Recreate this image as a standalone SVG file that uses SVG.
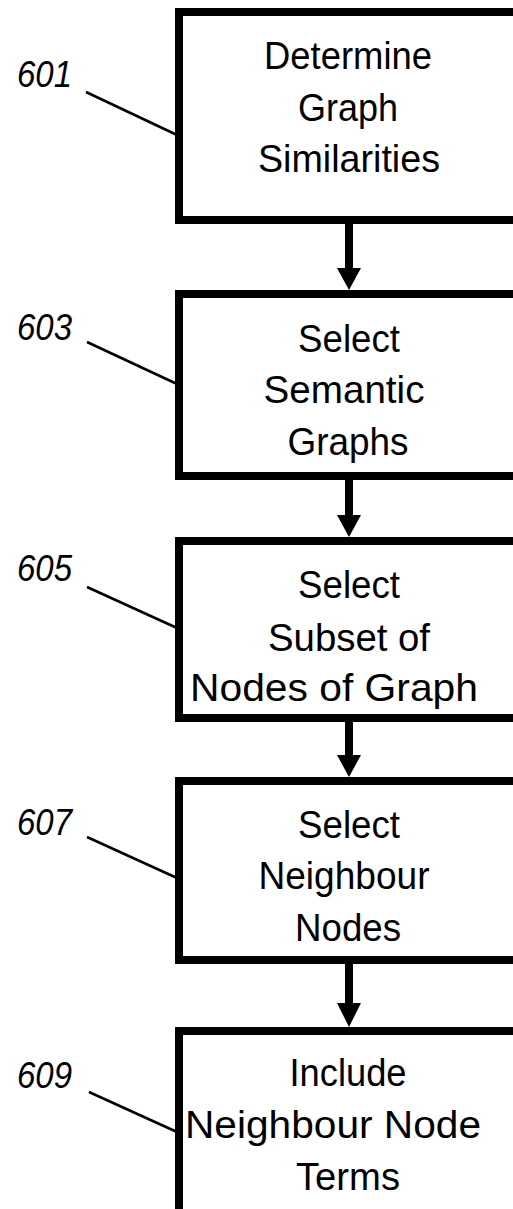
<svg xmlns="http://www.w3.org/2000/svg" width="513" height="1209" viewBox="0 0 513 1209">
  <style>
    .box { fill: #fff; stroke: #000; stroke-width: 8; }
    .txt { font-family: "Liberation Sans", Arial, sans-serif; font-size: 39px; text-anchor: middle; fill: #000; }
    .ref { font-family: "Liberation Sans", Arial, sans-serif; font-size: 37px; font-style: italic; fill: #000; }
    .lead { stroke: #000; stroke-width: 2.5; fill: none; }
    .shaft { stroke: #000; stroke-width: 8; }
    .head { fill: #000; }
  </style>
  <rect width="513" height="1209" fill="#fff"/>

  <!-- flow arrows between the steps -->
  <g id="connectors">
    <line class="shaft" x1="349" y1="224" x2="349" y2="270"/>
    <polygon class="head" points="337,268 361,268 349,290"/>
    <line class="shaft" x1="349" y1="480" x2="349" y2="517"/>
    <polygon class="head" points="337,515 361,515 349,537"/>
    <line class="shaft" x1="349" y1="722" x2="349" y2="757"/>
    <polygon class="head" points="337,755 361,755 349,777"/>
    <line class="shaft" x1="349" y1="964" x2="349" y2="1005"/>
    <polygon class="head" points="337,1003 361,1003 349,1027"/>
  </g>

  <g id="n601">
    <rect class="box" x="179" y="12" width="350" height="208"/>
    <text class="txt" x="348" y="69" textLength="168" lengthAdjust="spacingAndGlyphs">Determine</text>
    <text class="txt" x="348" y="121" textLength="100" lengthAdjust="spacingAndGlyphs">Graph</text>
    <text class="txt" x="349" y="172" textLength="182" lengthAdjust="spacingAndGlyphs">Similarities</text>
    <text class="ref" x="17" y="87" textLength="55" lengthAdjust="spacingAndGlyphs">601</text>
    <line class="lead" x1="86" y1="92" x2="177" y2="135"/>
  </g>

  <g id="n603">
    <rect class="box" x="179" y="294" width="350" height="182"/>
    <text class="txt" x="349" y="352" textLength="102" lengthAdjust="spacingAndGlyphs">Select</text>
    <text class="txt" x="344" y="403" textLength="161" lengthAdjust="spacingAndGlyphs">Semantic</text>
    <text class="txt" x="348" y="455" textLength="121" lengthAdjust="spacingAndGlyphs">Graphs</text>
    <text class="ref" x="17" y="340" textLength="55" lengthAdjust="spacingAndGlyphs">603</text>
    <line class="lead" x1="87" y1="342" x2="177" y2="384"/>
  </g>

  <g id="n605">
    <rect class="box" x="179" y="541" width="350" height="177"/>
    <text class="txt" x="349" y="598" textLength="102" lengthAdjust="spacingAndGlyphs">Select</text>
    <text class="txt" x="349" y="651" textLength="162" lengthAdjust="spacingAndGlyphs">Subset of</text>
    <text class="txt" x="334" y="701" textLength="288" lengthAdjust="spacingAndGlyphs">Nodes of Graph</text>
    <text class="ref" x="17" y="581" textLength="55" lengthAdjust="spacingAndGlyphs">605</text>
    <line class="lead" x1="87" y1="587" x2="177" y2="628"/>
  </g>

  <g id="n607">
    <rect class="box" x="179" y="781" width="350" height="179"/>
    <text class="txt" x="349" y="838" textLength="102" lengthAdjust="spacingAndGlyphs">Select</text>
    <text class="txt" x="344" y="889" textLength="171" lengthAdjust="spacingAndGlyphs">Neighbour</text>
    <text class="txt" x="348" y="941" textLength="106" lengthAdjust="spacingAndGlyphs">Nodes</text>
    <text class="ref" x="17" y="835" textLength="55" lengthAdjust="spacingAndGlyphs">607</text>
    <line class="lead" x1="87" y1="837" x2="177" y2="878"/>
  </g>

  <g id="n609">
    <rect class="box" x="179" y="1031" width="350" height="200"/>
    <text class="txt" x="348" y="1086" textLength="117" lengthAdjust="spacingAndGlyphs">Include</text>
    <text class="txt" x="333" y="1138" textLength="296" lengthAdjust="spacingAndGlyphs">Neighbour Node</text>
    <text class="txt" x="348" y="1190" textLength="104" lengthAdjust="spacingAndGlyphs">Terms</text>
    <text class="ref" x="17" y="1088" textLength="55" lengthAdjust="spacingAndGlyphs">609</text>
    <line class="lead" x1="89" y1="1092" x2="177" y2="1132"/>
  </g>
</svg>
